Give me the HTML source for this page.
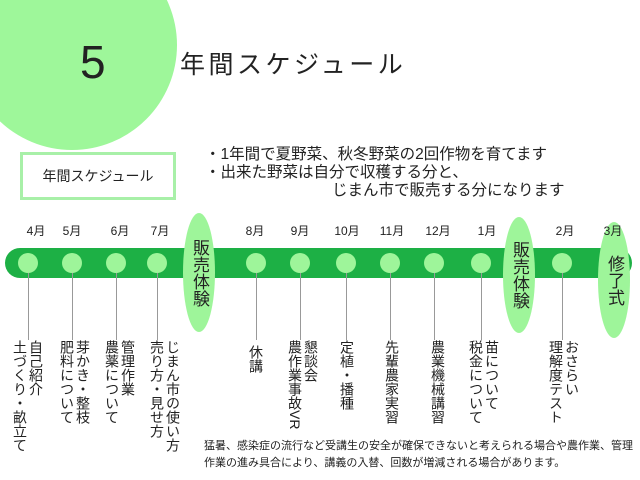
<!DOCTYPE html>
<html><head><meta charset="utf-8"><style>
body{margin:0;width:640px;height:480px;overflow:hidden;background:#fff;position:relative;font-family:"Liberation Sans","Noto Sans CJK JP",sans-serif;color:#222}
.a{position:absolute}
.v{position:absolute;writing-mode:vertical-rl;font-size:14px;line-height:16px;top:340px;white-space:nowrap}
.m{position:absolute;top:222px;font-size:12px;width:30px;text-align:center}
.d{position:absolute;top:253px;width:20px;height:20px;border-radius:50%;background:#9ef59a}
.l{position:absolute;top:270px;height:70px;width:1px;background:#999}
.e{position:absolute;width:32px;border-radius:50%;background:#9ef59a;writing-mode:vertical-rl;font-size:17px;line-height:32px;display:flex;align-items:center;justify-content:center}
.b{position:absolute;font-size:15.5px;line-height:18px;white-space:nowrap}
</style></head><body>
<div class="a" style="left:-33px;top:-60px;width:210px;height:210px;border-radius:50%;background:#9ef79a"></div>
<div class="a" style="left:80px;top:36px;font-size:46px;line-height:52px">5</div>
<div class="a" style="left:180px;top:50px;font-size:25px;line-height:30px;letter-spacing:3.5px">年間スケジュール</div>
<div class="a" style="left:20px;top:152px;width:150px;height:42px;border:3px solid #a8f0a8;font-size:14px;line-height:42px;text-align:center">年間スケジュール</div>
<div class="b" style="left:205px;top:146px">・1年間で夏野菜、秋冬野菜の2回作物を育てます</div>
<div class="b" style="left:205px;top:164px">・出来た野菜は自分で収穫する分と、</div>
<div class="b" style="left:332px;top:182px">じまん市で販売する分になります</div>
<div class="a" style="left:5px;top:248px;width:627px;height:30px;border-radius:15px;background:#1db045"></div>
<div class="l" style="left:28px"></div><div class="l" style="left:72px"></div><div class="l" style="left:116px"></div><div class="l" style="left:157px"></div><div class="l" style="left:256px"></div><div class="l" style="left:300px"></div><div class="l" style="left:346px"></div><div class="l" style="left:390px"></div><div class="l" style="left:434px"></div><div class="l" style="left:481px"></div><div class="l" style="left:562px"></div>
<div class="d" style="left:18px"></div><div class="d" style="left:62px"></div><div class="d" style="left:106px"></div><div class="d" style="left:147px"></div><div class="d" style="left:246px"></div><div class="d" style="left:290px"></div><div class="d" style="left:336px"></div><div class="d" style="left:380px"></div><div class="d" style="left:424px"></div><div class="d" style="left:471px"></div><div class="d" style="left:552px"></div>
<div class="e" style="left:183px;top:213px;height:119px">販売体験</div>
<div class="e" style="left:503px;top:217px;height:116px">販売体験</div>
<div class="e" style="left:598px;top:222px;height:116px">修了式</div>
<div class="m" style="left:21px">4月</div><div class="m" style="left:57px">5月</div><div class="m" style="left:105px">6月</div><div class="m" style="left:145px">7月</div><div class="m" style="left:240px">8月</div><div class="m" style="left:285px">9月</div><div class="m" style="left:332px">10月</div><div class="m" style="left:377px">11月</div><div class="m" style="left:423px">12月</div><div class="m" style="left:472px">1月</div><div class="m" style="left:550px">2月</div><div class="m" style="left:598px">3月</div>
<div class="v" style="left:12px">自己紹介<br>土づくり・畝立て</div>
<div class="v" style="left:59px">芽かき・整枝<br>肥料について</div>
<div class="v" style="left:104px">管理作業<br>農薬について</div>
<div class="v" style="left:149px">じまん市の使い方<br>売り方・見せ方</div>
<div class="v" style="left:248px;top:345px">休講</div>
<div class="v" style="left:287px">懇談会<br>農作業事故VR</div>
<div class="v" style="left:339px">定植・播種</div>
<div class="v" style="left:384px">先輩農家実習</div>
<div class="v" style="left:430px">農業機械講習</div>
<div class="v" style="left:468px">苗について<br>税金について</div>
<div class="v" style="left:548px">おさらい<br>理解度テスト</div>
<div class="a" style="left:204px;top:438px;font-size:11px;line-height:17px;white-space:nowrap">猛暑、感染症の流行など受講生の安全が確保できないと考えられる場合や農作業、管理<br>作業の進み具合により、講義の入替、回数が増減される場合があります。</div>
</body></html>
